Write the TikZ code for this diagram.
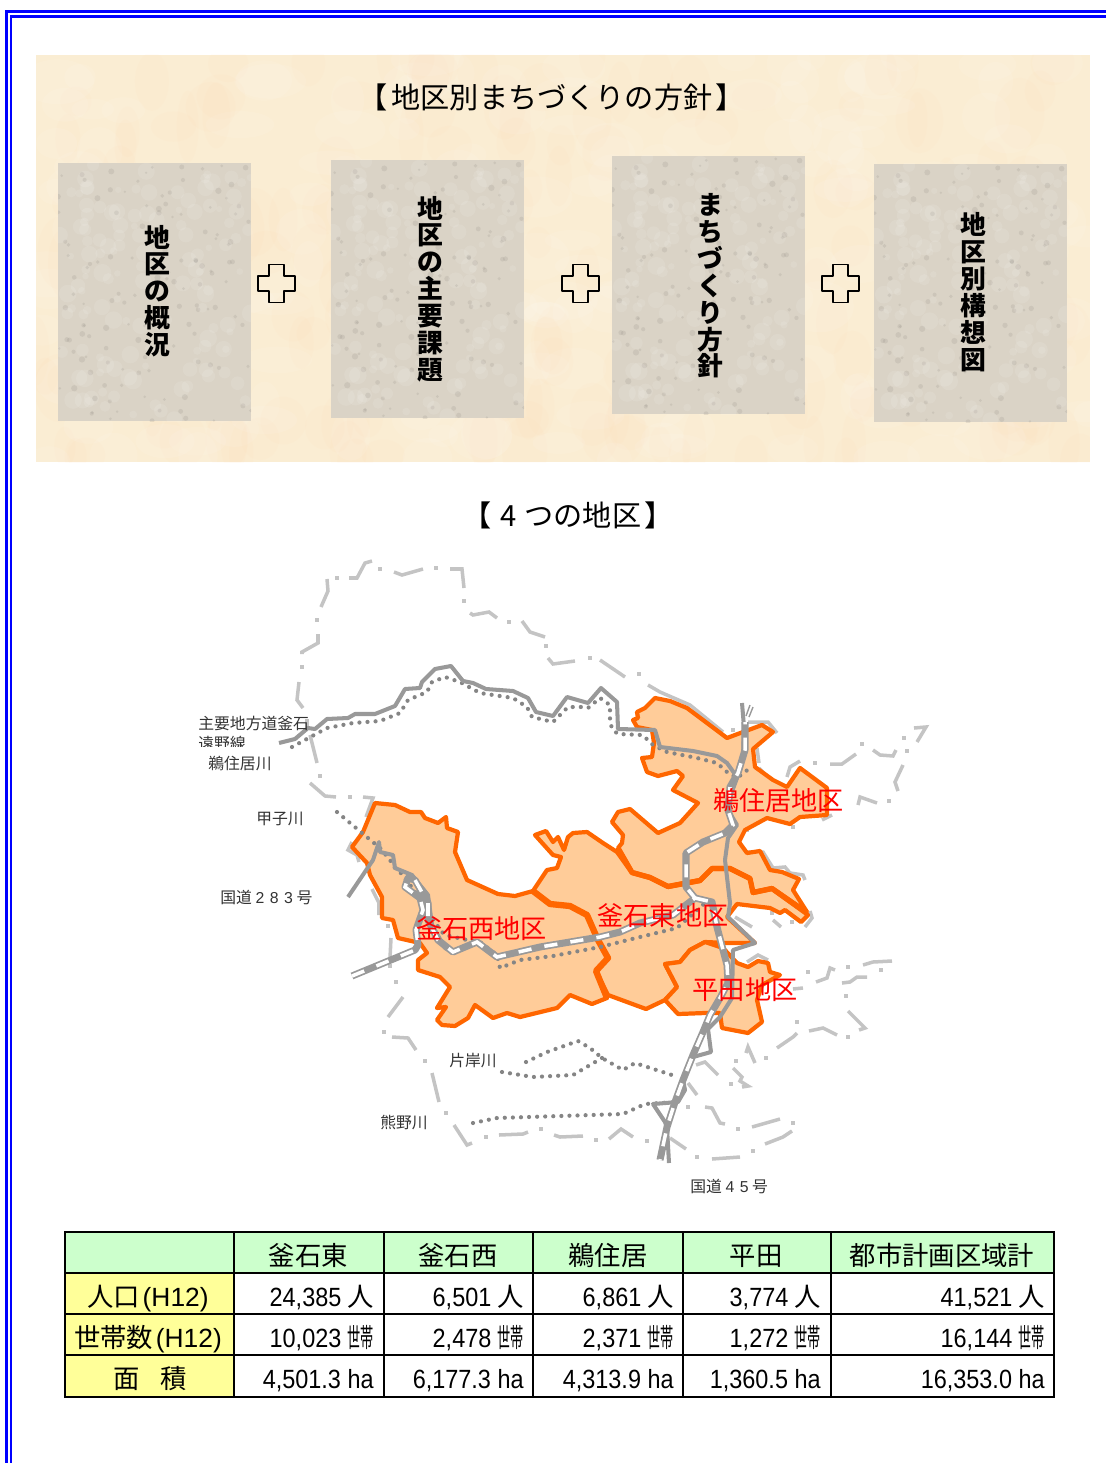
\documentclass[tikz,border=0pt]{standalone}
\usepackage{fontspec}
\setmainfont{Noto Sans CJK JP}
\newfontfamily\arialf[FakeStretch=0.89]{Liberation Sans}
\newfontfamily\arialg{Liberation Sans}
\newfontfamily\lsf[LetterSpace=35]{Liberation Sans}
\definecolor{panelc}{HTML}{FAEDD3}
\definecolor{cardc}{HTML}{DAD3C6}
\definecolor{bndc}{HTML}{C4C4C4}
\definecolor{orgc}{HTML}{FF6600}
\definecolor{regc}{HTML}{FFCC99}
\definecolor{roadc}{HTML}{999999}
\definecolor{dotc}{HTML}{858585}
\definecolor{labc}{HTML}{333333}
\definecolor{hdrc}{HTML}{CCFFCC}
\definecolor{rowc}{HTML}{FFFF99}
\newcommand\setcjkhead{\fontsize{16.6}{20}\selectfont}
\newcommand\setvert{\bfseries\fontsize{14.7}{15.3}\selectfont}
\newcommand\setcell{\fontsize{15}{17}\selectfont}
\newcommand\setmaplab{\fontsize{9}{10}\selectfont}
\newcommand\setred{\fontsize{14.9}{17}\selectfont}
\newcommand\sety{\scalebox{0.5}[1]{世帯}}
\tikzset{
  x=0.02cm,y=-0.02cm,
  blueline/.style={draw=blue,line width=1.45pt},
  bnd/.style={draw=bndc,line width=2pt,line join=miter},
  region/.style={draw=orgc,fill=regc,line width=2.4pt,line join=round},
  sharedline/.style={draw=orgc,line join=round},
  road/.style={draw=roadc,line width=2.3pt,line join=round},
  railgray/.style={draw=roadc,line width=4pt,line join=round},
  railwhite/.style={draw=white,line width=2pt,dash pattern=on 7.5pt off 7.5pt},
  river/.style={draw=dotc,line width=2.4pt,line cap=round,dash pattern=on 0pt off 4.6pt},
  vert/.style={align=center,inner sep=0pt,font=\setvert},
  plusbox/.style={draw=black,line width=0.8pt,line join=round},
  lab/.style={inner sep=0pt,text=labc,font=\setmaplab},
  redlab/.style={inner sep=0pt,text=red,font=\setred},
  grid/.style={draw=black,line width=1.2pt},
  cell/.style={inner sep=0pt,font=\setcell,anchor=base},
  num/.style={inner sep=0pt,font=\setcell,anchor=base east},
}
\begin{document}
\begin{tikzpicture}
\useasboundingbox (0,0) rectangle (1106,1463);
% page frame
\draw[blueline] (1106,11.5) -- (6.3,11.5) -- (6.3,1463);
\draw[blueline] (1106,16.3) -- (11.2,16.3) -- (11.2,1463);
% panel
\fill[panelc] (36,55) rectangle (1090,462);
\begin{scope}
\clip (36,55) rectangle (1090,462);
\pgfmathsetseed{41}
\foreach \i in {1,...,200}{
  \pgfmathsetmacro\rx{36+1054*rnd}\pgfmathsetmacro\ry{55+407*rnd}\pgfmathsetmacro\ra{14+24*rnd}\pgfmathsetmacro\rb{10+16*rnd}
  \fill[white,opacity=0.09] (\rx,\ry) ellipse [x radius=\ra,y radius=\rb];
  \pgfmathsetmacro\rx{36+1054*rnd}\pgfmathsetmacro\ry{55+407*rnd}
  \fill[orange!30!panelc,opacity=0.035] (\rx,\ry) ellipse [x radius=\rb,y radius=\ra];
}
\end{scope}
% cards
\foreach \cx/\cy/\cname in {58/163/a,331/160/b,612/156/c,874/164/d}{
  \fill[cardc] (\cx,\cy) rectangle ++(193,258);
  \begin{scope}
  \clip (\cx,\cy) rectangle ++(193,258);
  \pgfmathsetseed{7}
  \foreach \i in {1,...,130}{
    \pgfmathsetmacro\rx{\cx+193*rnd}\pgfmathsetmacro\ry{\cy+258*rnd}\pgfmathsetmacro\ra{1.2+2*rnd}
    \fill[black!40!cardc,opacity=0.16] (\rx,\ry) circle [radius=\ra];
    \pgfmathsetmacro\rx{\cx+193*rnd}\pgfmathsetmacro\ry{\cy+258*rnd}\pgfmathsetmacro\rb{3+6*rnd}
    \fill[white,opacity=0.10] (\rx,\ry) circle [radius=\rb];
  }
  \end{scope}
}
\node[inner sep=0pt,font=\setcjkhead] (title1) at (552,97) {【\hspace{2pt}地区別まちづくりの方針\hspace{2pt}】};
\node[vert] (v1) at (157,291) {地\\区\\の\\概\\況};
\node[vert] (v2) at (430,289) {地\\区\\の\\主\\要\\課\\題};
\node[vert] (v3) at (710,286) {ま\\ち\\づ\\く\\り\\方\\針};
\node[vert] (v4) at (973,292) {地\\区\\別\\構\\想\\図};
\foreach \px/\py in {276.5/283.5,580.5/283.5,840.5/283.5}{
  \draw[plusbox] ({\px-7.5},{\py-19}) -- ({\px+7.5},{\py-19}) -- ({\px+7.5},{\py-7.5}) -- ({\px+18.5},{\py-7.5}) -- ({\px+18.5},{\py+7.5}) -- ({\px+7.5},{\py+7.5}) -- ({\px+7.5},{\py+19}) -- ({\px-7.5},{\py+19}) -- ({\px-7.5},{\py+7.5}) -- ({\px-18.5},{\py+7.5}) -- ({\px-18.5},{\py-7.5}) -- ({\px-7.5},{\py-7.5}) -- cycle;
}
\node[inner sep=0pt,font=\setcjkhead] (title2) at (568,515) {【\hspace{5pt}4\hspace{1pt} つの地区\hspace{2pt}】};
% boundary dashes
\draw[bnd] (372,561)--(365,563)--(357,578)--(349,578);
\draw[bnd] (327,579)--(328,591)--(321,607);
\draw[bnd] (318,634)--(318,643)--(302,652)--(302,654);
\draw[bnd] (299,682)--(297,700)--(303,708);
\draw[bnd] (307,719)--(307,727);
\draw[bnd] (310,735)--(317,763);
\draw[bnd] (310,783)--(325,796)--(336,797);
\draw[bnd] (363,797)--(373,798)--(366,817);
\draw[bnd] (394,572)--(402,575)--(423,569);
\draw[bnd] (450,569)--(462,569)--(464,588);
\draw[bnd] (470,613)--(473,615)--(489,612)--(497,618);
\draw[bnd] (522,621)--(530,632)--(545,637);
\draw[bnd] (548,658)--(553,664)--(575,661);
\draw[bnd] (600,660)--(625,677);
\draw[bnd] (648,685)--(660,692)--(690,705)--(723,732);
\draw[bnd] (748,722)--(768,722)--(777,733);
\draw[bnd] (757,748)--(759,763);
\draw[bnd] (759,768)--(775,784);
\draw[bnd] (787,777)--(790,767)--(800,761);
\draw[bnd] (830,764)--(842,764)--(856,754);
\draw[bnd] (873,750)--(880,755)--(893,756)--(896,750);
\draw[bnd] (914,728)--(926,727)--(917,742);
\draw[bnd] (903,765)--(895,782)--(898,791);
\draw[bnd] (877,803)--(860,797)--(858,805);
\draw[bnd] (822,820)--(832,815);
\draw[bnd] (745,852)--(763,852)--(773,868)--(785,867)--(790,873)--(803,875)--(805,880);
\draw[bnd] (810,911)--(812,918)--(805,927);
\draw[bnd] (781,927)--(773,920);
\draw[bnd] (735,917)--(752,927);
\draw[bnd] (747,962)--(758,955)--(768,960);
\draw[bnd] (793,989)--(803,988);
\draw[bnd] (816,982)--(827,978)--(830,968)--(835,970);
\draw[bnd] (842,983)--(850,982)--(857,977)--(867,977);
\draw[bnd] (863,965)--(873,962)--(892,961);
\draw[bnd] (848,1011)--(865,1028)--(859,1030);
\draw[bnd] (837,1035)--(823,1028)--(809,1031);
\draw[bnd] (797,1033)--(793,1037)--(777,1048);
\draw[bnd] (755,1063)--(748,1047)--(746,1053);
\draw[bnd] (733,1068)--(742,1077)--(740,1081)--(748,1086)--(742,1087);
\draw[bnd] (718,1075)--(705,1062)--(696,1065);
\draw[bnd] (697,1095)--(688,1083);
\draw[bnd] (705,1107)--(712,1108)--(720,1123)--(725,1124);
\draw[bnd] (752,1127)--(780,1119);
\draw[bnd] (792,1131)--(783,1137)--(765,1144);
\draw[bnd] (740,1157)--(712,1159);
\draw[bnd] (686,1149)--(670,1138);
\draw[bnd] (633,1137)--(621,1129)--(609,1139);
\draw[bnd] (583,1136)--(560,1137)--(554,1135);
\draw[bnd] (528,1132)--(523,1134)--(499,1135);
\draw[bnd] (472,1143)--(467,1145)--(454,1125);
\draw[bnd] (439,1102)--(432,1073);
\draw[bnd] (416,1050)--(408,1038)--(392,1037);
\draw[bnd] (388,1017)--(403,997);
\draw[bnd] (352,842)--(348,850)--(357,855)--(359,862);
\draw[bnd] (372,889)--(379,903)--(379,915);
\draw[bnd] (391,938)--(390,958);
\draw[bnd] (390,964)--(390,968);
\foreach \dx/\dy in {337/578,380/569,436/568,464/601,509/622,546/646,317/620,302/667,320/776,350/797,
  590/658,639/674,733/730,815/763,862/744,907/751,904/738,889/801,793/827,747/830,772/913,792/922,
  808/972,848/967,881/970,846/996,848/1037,797/1022,766/1058,736/1061,731/1084,738/1129,793/1123,
  753/1151,697/1157,647/1141,596/1140,541/1129,486/1137,446/1113,425/1061,384/1032,388/926,396/982,688/1107}{
  \fill[bndc] ({\dx-2},{\dy-2}) rectangle ({\dx+2},{\dy+2});
}
% regions
\draw[region] (375,803)--(395,805)--(410,812)--(421,812)--(425,818)--(438,823)--(446,817)--(447,828)--(458,832)--(455,852)--(467,880)--(498,894)--(515,896)--(533,891)--(550,904)--(570,906)--(587,915)--(598,940)--(608,958)--(596,971)--(607,998)--(592,1004)--(570,995)--(557,1008)--(520,1017)--(507,1013)--(493,1018)--(475,1005)--(468,1018)--(455,1026)--(442,1025)--(437,1020)--(446,1007)--(437,1008)--(450,987)--(440,977)--(418,970)--(418,960)--(427,953)--(420,943)--(398,938)--(393,920)--(382,918)--(382,897)--(370,875)--(367,863)--(352,847)--(363,832)--cycle;
\draw[region] (655,698)--(670,701)--(687,708)--(727,738)--(743,732)--(762,725)--(773,732)--(753,749)--(755,767)--(773,780)--(787,787)--(800,768)--(827,788)--(827,815)--(800,817)--(790,824)--(767,818)--(745,830)--(739,842)--(747,853)--(760,851)--(770,870)--(782,872)--(799,879)--(793,890)--(807,912)--(772,888)--(753,892)--(750,878)--(730,868)--(712,868)--(700,880)--(668,886)--(650,877)--(632,872)--(618,848)--(622,843)--(623,835)--(612,822)--(618,812)--(630,809)--(658,833)--(680,823)--(698,803)--(673,790)--(683,776)--(677,771)--(658,776)--(647,772)--(642,758)--(652,757)--(654,743)--(652,730)--(637,727)--(633,720)--(638,718)--(637,712)--(645,708)--cycle;
\draw[region] (533,891)--(547,870)--(557,868)--(561,857)--(553,855)--(535,835)--(546,831)--(553,842)--(558,837)--(564,850)--(568,837)--(573,833)--(587,832)--(603,843)--(617,852)--(632,873)--(650,878)--(668,887)--(700,881)--(712,869)--(730,869)--(750,879)--(753,893)--(772,889)--(808,915)--(801,922)--(785,910)--(780,913)--(770,908)--(737,904)--(727,917)--(755,943)--(727,943)--(705,942)--(690,950)--(680,962)--(665,964)--(677,987)--(665,1000)--(646,1009)--(608,995)--(596,971)--(608,958)--(598,940)--(587,915)--(570,906)--(550,904)--cycle;
\draw[region] (665,964)--(680,962)--(690,950)--(705,942)--(723,948)--(737,963)--(748,967)--(758,961)--(768,963)--(770,972)--(780,975)--(762,985)--(757,1000)--(762,1022)--(748,1033)--(722,1028)--(720,1013)--(705,1013)--(678,1014)--(665,1000)--(677,987)--cycle;
\draw[sharedline,line width=3.6pt] (533,891)--(550,904)--(570,906)--(587,915)--(598,940)--(608,958)--(596,971)--(607,998);
\draw[sharedline,line width=3pt] (618,848)--(632,872.5)--(650,877.5)--(668,886.5)--(700,880.5)--(712,868.5)--(730,868.5)--(750,878.5)--(753,892.5)--(772,888.5)--(807,913);
% rivers
\draw[river] (292,747)--(327,728)--(353,723)--(380,721)--(400,713)--(408,700)--(427,692)--(432,682)--(445,677)--(460,682)--(480,693)--(513,698)--(527,707)--(532,717)--(553,722)--(568,707)--(582,707)--(588,708)--(600,698)--(610,705)--(610,723)--(613,730)--(618,734)--(642,735)--(648,740)--(653,745)--(667,752)--(697,758)--(717,763)--(727,772)--(737,778)--(750,768);
\draw[river] (337,812)--(362,833)--(380,848)--(390,860)--(395,868)--(400,872)--(420,898)--(428,910)--(440,930)--(445,935)--(467,940)--(480,942)--(497,955)--(500,968)--(520,960)--(553,956)--(600,947)--(640,937)--(677,928)--(705,903);
\draw[river] (526,1062)--(547,1052)--(578,1041)--(590,1048)--(602,1058)--(623,1070)--(635,1063)--(675,1076);
\draw[river] (502,1072)--(533,1077)--(573,1075)--(602,1058);
\draw[river] (473,1123)--(497,1118)--(623,1114)--(645,1104)--(677,1102);
% roads
\draw[road] (279,743)--(295,739)--(308,728)--(315,729)--(327,719)--(348,718)--(355,714)--(375,714)--(395,706)--(405,689)--(420,688)--(422,682)--(435,669)--(451,666)--(463,681)--(473,683)--(486,689)--(513,691)--(528,698)--(536,712)--(553,716)--(567,697)--(588,703)--(601,688)--(617,702)--(618,729)--(655,730)--(660,747)--(693,751)--(717,756)--(727,763)--(737,777);
\draw[road] (742,703)--(744,727)--(743,757)--(737,778)--(730,797)--(728,810)--(737,825)--(728,838)--(725,860)--(730,903)--(728,917)--(755,943)--(733,950)--(732,998)--(720,1017)--(708,1029)--(711,1052)--(693,1057)--(683,1080)--(685,1090)--(678,1102)--(653,1104)--(665,1122)--(667,1128)--(669,1163);
\draw[road] (348,897)--(373,860)--(379,842)--(380,852)--(393,855)--(395,868)--(412,875)--(428,895)--(432,925)--(445,948)--(453,952);
\draw[road,line width=0.8pt] (746,716)--(750,705) (749,717)--(753,707);
% railways
\path[railgray] (352,976)--(415,950)--(418,945)--(416,930)--(423,910)--(420,898)--(405,887)--(408,878)--(415,880)--(428,903)--(428,920)--(438,940)--(453,952)--(477,942)--(497,957)--(540,947)--(600,937)--(620,932)--(640,923)--(673,915)--(695,898)--(686,887)--(686,853)--(703,842)--(725,833)--(733,825)--(728,810)--(730,787)--(738,773)--(745,750)--(745,722);
\path[railgray] (695,898)--(712,902)--(717,927)--(727,965)--(728,983)--(720,998)--(710,1015)--(703,1032)--(693,1055)--(683,1080)--(675,1102)--(667,1127)--(660,1160);
\path[railwhite] (352,976)--(415,950)--(418,945)--(416,930)--(423,910)--(420,898)--(405,887)--(408,878)--(415,880)--(428,903)--(428,920)--(438,940)--(453,952)--(477,942)--(497,957)--(540,947)--(600,937)--(620,932)--(640,923)--(673,915)--(695,898)--(686,887)--(686,853)--(703,842)--(725,833)--(733,825)--(728,810)--(730,787)--(738,773)--(745,750)--(745,722);
\path[railwhite] (695,898)--(712,902)--(717,927)--(727,965)--(728,983)--(720,998)--(710,1015)--(703,1032)--(693,1055)--(683,1080)--(675,1102)--(667,1127)--(660,1160);
% map labels
\node[lab,anchor=west] (l1) at (198,723) {主要地方道釜石};
\begin{scope}
\clip (190,730) rectangle (260,746);
\node[lab,anchor=west] (l2) at (198,743) {遠野線};
\end{scope}
\node[lab,anchor=west] (l3) at (208,764) {鵜住居川};
\node[lab,anchor=west] (l4) at (256,819) {甲子川};
\node[lab,anchor=west] (l5) at (220,897) {国道 {\lsf 283} 号};
\node[lab,anchor=west] (l6) at (449,1061) {片岸川};
\node[lab,anchor=west] (l7) at (380,1123) {熊野川};
\node[lab,anchor=west] (l8) at (690,1186) {国道 {\lsf 45} 号};
\node[redlab] (r1) at (778.5,801) {鵜住居地区};
\node[redlab] (r2) at (663,916) {釜石東地区};
\node[redlab] (r3) at (481.5,929) {釜石西地区};
\node[redlab] (r4) at (745,990) {平田地区};
% table
\fill[hdrc] (65,1232) rectangle (1054,1273);
\fill[rowc] (65,1273) rectangle (234,1397);
\draw[grid] (65,1232) rectangle (1054,1397);
\foreach \gy in {1273,1314,1355} \draw[grid] (65,\gy) -- (1054,\gy);
\foreach \gx in {234,384,533,683,831} \draw[grid] (\gx,1232) -- (\gx,1397);
\node[cell] (h1) at (308.5,1265) {釜石東};
\node[cell] (h2) at (458,1265) {釜石西};
\node[cell] (h3) at (608,1265) {鵜住居};
\node[cell] (h4) at (756,1265) {平田};
\node[cell] (h5) at (942,1265) {都市計画区域計};
\node[cell] (s1) at (148,1306) {人口\hspace{1.5pt}{\arialg(H12)}};
\node[cell] (s2) at (148,1347) {世帯数\hspace{1.5pt}{\arialg(H12)}};
\node[cell] (s3) at (150,1388) {面\hspace{0.8em}積};
\node[num] (a1) at (374,1306) {{\arialf 24,385} 人};
\node[num] (a2) at (524,1306) {{\arialf 6,501} 人};
\node[num] (a3) at (674,1306) {{\arialf 6,861} 人};
\node[num] (a4) at (821,1306) {{\arialf 3,774} 人};
\node[num] (a5) at (1045,1306) {{\arialf 41,521} 人};
\node[num] (b1) at (374,1347) {{\arialf 10,023} \sety};
\node[num] (b2) at (524,1347) {{\arialf 2,478} \sety};
\node[num] (b3) at (674,1347) {{\arialf 2,371} \sety};
\node[num] (b4) at (821,1347) {{\arialf 1,272} \sety};
\node[num] (b5) at (1045,1347) {{\arialf 16,144} \sety};
\node[num] (c1) at (374,1388) {\arialf 4,501.3 ha};
\node[num] (c2) at (524,1388) {\arialf 6,177.3 ha};
\node[num] (c3) at (674,1388) {\arialf 4,313.9 ha};
\node[num] (c4) at (821,1388) {\arialf 1,360.5 ha};
\node[num] (c5) at (1045,1388) {\arialf 16,353.0 ha};
\end{tikzpicture}
\end{document}
